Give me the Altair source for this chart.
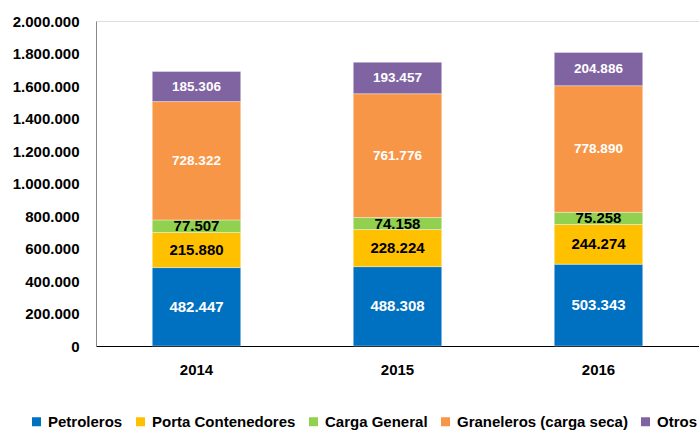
import altair as alt
import pandas as pd

years = ["2014", "2015", "2016"]
series = ["Petroleros", "Porta Contenedores", "Carga General", "Graneleros (carga seca)", "Otros"]
petroleros = [482447, 488308, 503343]
porta = [215880, 228224, 244274]
carga = [77507, 74158, 75258]
graneleros = [728322, 761776, 778890]
otros = [185306, 193457, 204886]
colors = ["#0070C0", "#FFC000", "#92D050", "#F79646", "#8064A2"]
label_colors = ["white", "black", "black", "white", "white"]
label_sizes = [15, 15, 15, 13.5, 13.5]
y_ticks = [0, 200000, 400000, 600000, 800000, 1000000, 1200000, 1400000, 1600000, 1800000, 2000000]

values = [petroleros, porta, carga, graneleros, otros]
rows = []
for si, (s, vals) in enumerate(zip(series, values)):
    for y, v in zip(years, vals):
        rows.append({"year": y, "series": s, "value": v, "idx": si,
                     "label": f"{v:,}".replace(",", "."), "lc": label_colors[si],
                     "fs": label_sizes[si]})
df = pd.DataFrame(rows)

FONT = "Liberation Sans, Arial, sans-serif"

x_axis = alt.Axis(labelAngle=0, labelFont=FONT, labelFontSize=15, labelFontWeight="bold",
                  labelColor="black", ticks=False, domainColor="black", domainWidth=1.2,
                  labelPadding=16)
y_axis = alt.Axis(values=y_ticks, grid=False, ticks=False,
                  domainColor="#888888", labelFont=FONT, labelFontSize=15,
                  labelFontWeight="bold", labelColor="black", labelPadding=17,
                  labelOverlap=False, labelBound=False,
                  labelExpr="replace(format(datum.value, ',d'), /,/g, '.')")
x_enc = alt.X("year:N", title=None,
              scale=alt.Scale(paddingInner=0.56, paddingOuter=0.28), axis=x_axis)
y_scale = alt.Scale(domain=[0, 2000000], nice=False)

base = alt.Chart(df)

bars = base.mark_bar(stroke="white", strokeWidth=0.6, strokeOpacity=0.6).encode(
    x=x_enc,
    y=alt.Y("value:Q", title=None, stack="zero", scale=y_scale, axis=y_axis),
    color=alt.Color("series:N", scale=alt.Scale(domain=series, range=colors),
                    sort=series,
                    legend=alt.Legend(title=None, orient="none", direction="horizontal",
                                      legendX=-67, legendY=393, symbolType="square",
                                      symbolSize=81, symbolStrokeWidth=0,
                                      labelFont=FONT, labelFontSize=15, labelFontWeight="bold",
                                      labelColor="black", columnPadding=10, labelOffset=4,
                                      labelLimit=400, columns=5)),
    order=alt.Order("idx:Q", sort="ascending"),
)

text = base.mark_text(font=FONT, fontWeight="bold").encode(
    x=x_enc,
    y=alt.Y("value:Q", title=None, stack="zero", scale=y_scale, axis=y_axis, bandPosition=0.5),
    text="label:N",
    color=alt.Color("lc:N", scale=None),
    size=alt.Size("fs:Q", scale=None),
    order=alt.Order("idx:Q", sort="ascending"),
)

chart = (bars + text).properties(
    width=603, height=325,
    autosize=alt.AutoSizeParams(type="none"),
    padding={"left": 96, "top": 21, "right": 0, "bottom": 84},
).configure_view(stroke=None).configure(background="white")

chart.save("out.html", embed_options={"renderer": "svg", "actions": False})
